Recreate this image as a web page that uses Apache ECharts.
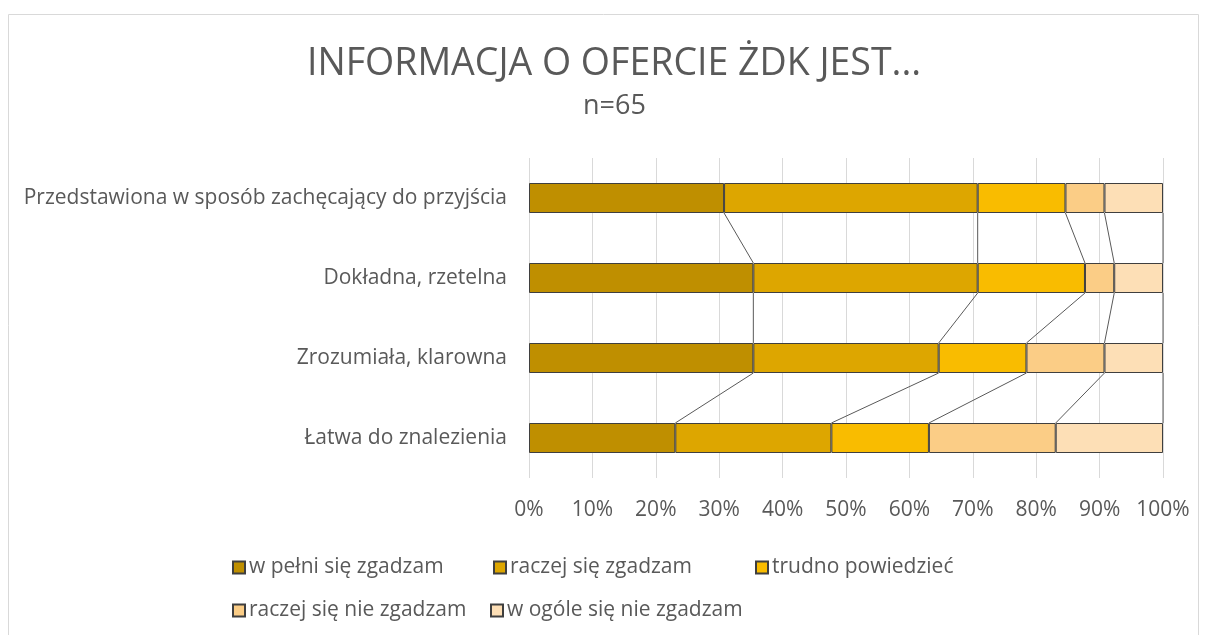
<!DOCTYPE html>
<html>
<head>
<meta charset="utf-8">
<script src="https://cdn.jsdelivr.net/npm/echarts@6/dist/echarts.min.js"></script>
<style>
  html, body { margin: 0; padding: 0; background: #fff; }
  #chart { width: 1205px; height: 635px; }
</style>
</head>
<body>
<div id="chart"></div>
<script>
// kategorie (od góry)
var categories = [
    'Przedstawiona w sposób zachęcający do przyjścia',
    'Dokładna, rzetelna',
    'Zrozumiała, klarowna',
    'Łatwa do znalezienia'
];
var total = 65;

// liczba odpowiedzi (n=65)
var wPelni    = [20, 23, 23, 15];
var raczej    = [26, 23, 19, 16];
var trudno    = [9, 11, 9, 10];
var raczejNie = [4, 3, 8, 13];
var wOgole    = [6, 5, 6, 11];

var seriesNames = ['w pełni się zgadzam', 'raczej się zgadzam', 'trudno powiedzieć', 'raczej się nie zgadzam', 'w ogóle się nie zgadzam'];
var seriesColors = ['#BF8F00', '#DDA600', '#F9BC00', '#FBCD86', '#FDDFB6'];
var xTicks = [0, 10, 20, 30, 40, 50, 60, 70, 80, 90, 100];

var counts = [wPelni, raczej, trudno, raczejNie, wOgole];
var FONT = '"Open Sans", "Noto Sans", sans-serif';
var BAR_RATIO = 0.375;

function pct(v) { return v / total * 100; }

// skumulowane granice dla linii serii
var cum = categories.map(function (c, i) {
    var s = 0;
    return counts.map(function (arr) { s += arr[i]; return pct(s); });
});
var seriesLineData = [];
for (var i = 0; i < categories.length - 1; i++) {
    for (var k = 0; k < counts.length; k++) {
        seriesLineData.push([cum[i][k], i, cum[i + 1][k], i + 1]);
    }
}

var myChart = echarts.init(document.getElementById('chart'));

var barSeries = counts.map(function (arr, idx) {
    return {
        name: seriesNames[idx],
        type: 'bar',
        stack: 'all',
        barWidth: (BAR_RATIO * 100) + '%',
        itemStyle: {
            color: seriesColors[idx],
            borderColor: '#3f3f3f',
            borderWidth: 1
        },
        data: arr.map(pct)
    };
});

var legendPos = [[227, 552], [488, 552], [750, 552], [227, 595], [485, 595]];
var legends = seriesNames.map(function (name, idx) {
    return {
        data: [name],
        left: legendPos[idx][0],
        top: legendPos[idx][1],
        itemWidth: 12,
        itemHeight: 12,
        itemGap: 4,
        icon: 'rect',
        textStyle: { fontFamily: FONT, fontSize: 21, color: '#595959', padding: [0, 0, 0, -1] }
    };
});

var option = {
    animation: false,
    graphic: [{
        type: 'rect',
        shape: { x: 8.5, y: 14.5, width: 1190, height: 640 },
        style: { fill: 'none', stroke: '#d9d9d9', lineWidth: 1 },
        silent: true
    }],
    title: [
        {
            text: 'INFORMACJA O OFERCIE ŻDK JEST...',
            left: 302,
            top: 40,
            textStyle: { fontFamily: FONT, fontSize: 37.5, fontWeight: 'normal', color: '#595959' }
        },
        {
            text: 'n=65',
            left: 578,
            top: 88,
            textStyle: { fontFamily: FONT, fontSize: 27, fontWeight: 'normal', color: '#595959' }
        }
    ],
    legend: legends,
    grid: { left: 529, right: 42, top: 158, height: 320 },
    xAxis: {
        type: 'value',
        min: xTicks[0],
        max: xTicks[xTicks.length - 1],
        interval: 10,
        axisLine: { show: false },
        axisTick: { show: false },
        axisLabel: { formatter: '{value}%', fontFamily: FONT, fontSize: 21, color: '#595959', margin: 22 },
        splitLine: { lineStyle: { color: '#d9d9d9', width: 1 } }
    },
    yAxis: {
        type: 'category',
        inverse: true,
        data: categories,
        axisLine: { show: false },
        axisTick: { show: false },
        axisLabel: { fontFamily: FONT, fontSize: 21, color: '#595959', margin: 22 }
    },
    series: barSeries.concat([{
        name: 'linie serii',
        type: 'custom',
        silent: true,
        z: 1,
        encode: { x: [0, 2], y: [1, 3] },
        renderItem: function (params, api) {
            var p1 = api.coord([api.value(0), api.value(1)]);
            var p2 = api.coord([api.value(2), api.value(3)]);
            var half = api.size([0, 1])[1] * BAR_RATIO / 2;
            return {
                type: 'line',
                shape: { x1: p1[0], y1: p1[1] + half, x2: p2[0], y2: p2[1] - half },
                style: { stroke: '#595959', lineWidth: 1 }
            };
        },
        data: seriesLineData
    }])
};

myChart.setOption(option);
</script>
</body>
</html>
